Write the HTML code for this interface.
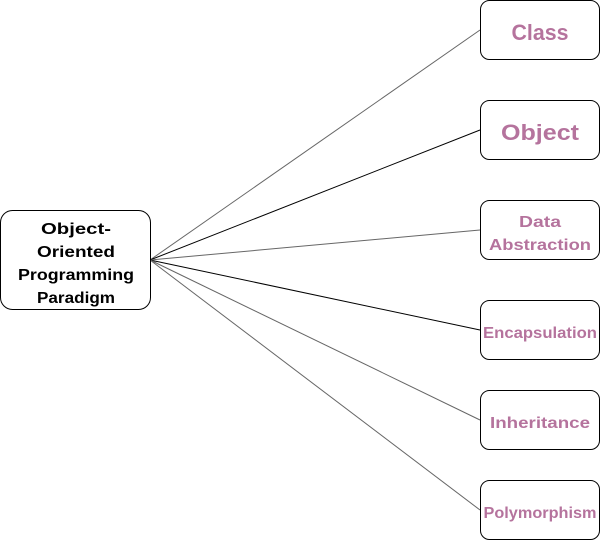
<!DOCTYPE html>
<html><head><style>body{margin:0;background:#fff}svg{display:block}</style></head>
<body>
<svg width="601" height="541" viewBox="0 0 601 541" xmlns="http://www.w3.org/2000/svg" font-family="'Liberation Sans', sans-serif" font-weight="bold" text-anchor="middle">
<g stroke-width="1">
<line x1="150" y1="260" x2="480" y2="30" stroke="#666"/>
<line x1="150" y1="260" x2="480" y2="130" stroke="#000"/>
<line x1="150" y1="260" x2="480" y2="230" stroke="#666"/>
<line x1="150" y1="260" x2="480" y2="330" stroke="#000"/>
<line x1="150" y1="260" x2="480" y2="420" stroke="#666"/>
<line x1="150" y1="260" x2="480" y2="510" stroke="#666"/>
</g>
<g fill="#fff" stroke="#000" stroke-width="1">
<rect x="0.5" y="210.5" width="150" height="99" rx="12"/>
<rect x="480.5" y="0.5" width="119" height="59" rx="9"/>
<rect x="480.5" y="100.5" width="119" height="59" rx="9"/>
<rect x="480.5" y="200.5" width="119" height="59" rx="9"/>
<rect x="480.5" y="300.5" width="119" height="59" rx="9"/>
<rect x="480.5" y="390.5" width="119" height="59" rx="9"/>
<rect x="480.5" y="480.5" width="119" height="59" rx="9"/>
</g>
<g font-size="16" fill="#000">
<text x="76" y="234" textLength="70" lengthAdjust="spacingAndGlyphs">Object-</text>
<text x="76" y="257" textLength="78" lengthAdjust="spacingAndGlyphs">Oriented</text>
<text x="76" y="280" textLength="116" lengthAdjust="spacingAndGlyphs">Programming</text>
<text x="76" y="303" textLength="78" lengthAdjust="spacingAndGlyphs">Paradigm</text>
</g>
<g fill="#B5739D">
<text x="540" y="40" font-size="22" textLength="57" lengthAdjust="spacingAndGlyphs">Class</text>
<text x="540" y="140" font-size="22" textLength="78" lengthAdjust="spacingAndGlyphs">Object</text>
<text x="540" y="227" font-size="16" textLength="42" lengthAdjust="spacingAndGlyphs">Data</text>
<text x="540" y="250" font-size="16" textLength="102" lengthAdjust="spacingAndGlyphs">Abstraction</text>
<text x="540" y="338" font-size="16" textLength="114" lengthAdjust="spacingAndGlyphs">Encapsulation</text>
<text x="540" y="428" font-size="16" textLength="100" lengthAdjust="spacingAndGlyphs">Inheritance</text>
<text x="540" y="518" font-size="16" textLength="113" lengthAdjust="spacingAndGlyphs">Polymorphism</text>
</g>
</svg>
</body></html>
